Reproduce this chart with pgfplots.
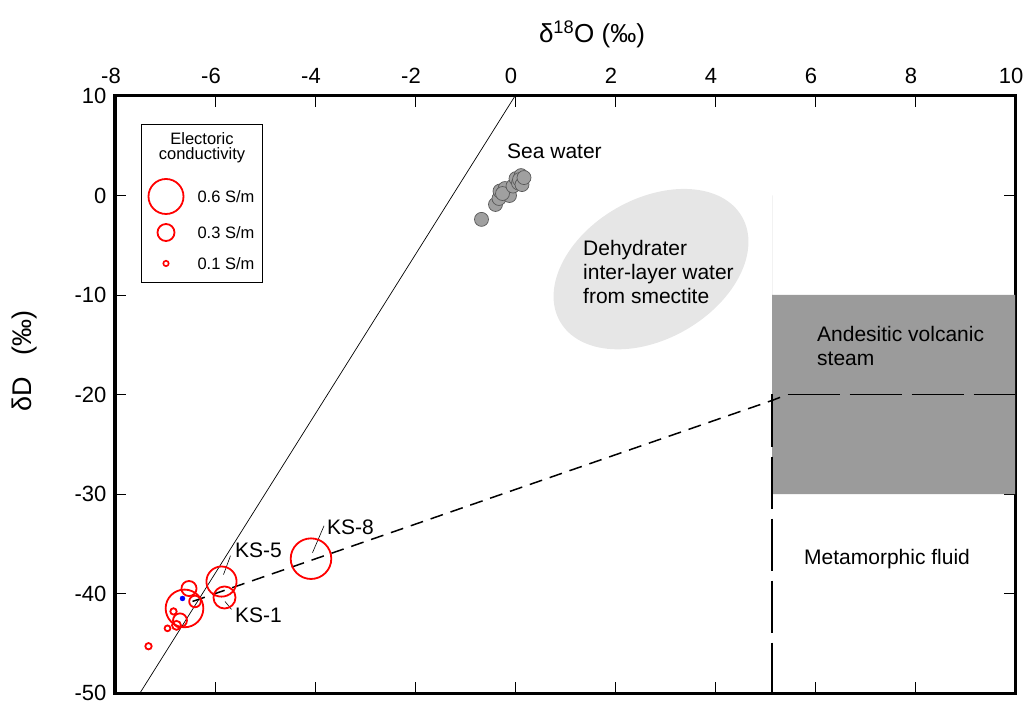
\documentclass[border=0pt]{standalone}
\usepackage{pgfplots}
\pgfplotsset{compat=1.18}
\usepackage{fontspec}
\setmainfont{Liberation Sans}
\definecolor{ellgray}{HTML}{E6E6E6}
\definecolor{boxgray}{HTML}{9B9B9B}
\definecolor{ptgray}{HTML}{A0A0A0}
\begin{document}
\begin{tikzpicture}
\begin{axis}[
  name=ax,
  scale only axis, width=900pt, height=597pt,
  xmin=-8, xmax=10, ymin=-50, ymax=10,
  xtick={-8,-6,...,10}, ytick={-50,-40,...,10},
  xticklabel pos=right,
  tick align=inside,
  major tick length=11pt,
  every tick/.style={black, line width=0.8pt},
  axis line style={line width=3pt},
  /pgf/number format/assume math mode=true,
  xticklabel style={font=\fontsize{22}{22}\selectfont, anchor=base, yshift=12pt, xshift=-4pt},
  yticklabel style={font=\fontsize{22}{22}\selectfont, anchor=east, xshift=-5pt},
  clip=true,
]
% andesitic volcanic steam box
\addplot[fill=boxgray, draw=none, forget plot] coordinates {(5.14,-10) (10,-10) (10,-30) (5.14,-30)} \closedcycle;
% ellipse
\fill[ellgray, rotate around={30:(axis cs:2.72,-7.4)}] (axis cs:2.72,-7.4) ellipse [x radius=105pt, y radius=70pt];
% GMWL
\addplot[black, line width=0.7pt, forget plot] coordinates {(-7.5,-50) (0,10)};
% mixing line
\addplot[black, line width=1.5pt, dash pattern=on 13pt off 8pt, forget plot] coordinates {(-6.45,-40.8) (5.14,-20.6) (5.45,-20)};
\addplot[black, line width=1.5pt, dash pattern=on 52pt off 10pt, forget plot] coordinates {(5.45,-20) (10,-20)};
\addplot[black, line width=1.5pt, dash pattern=on 52pt off 10pt, forget plot] coordinates {(5.14,-20) (5.14,-50)};
% sea water
\addplot[only marks, mark=*, mark size=7pt, mark options={fill=ptgray, draw=black!65, line width=0.7pt}, forget plot] coordinates {
(-0.67,-2.4) (-0.39,-0.9) (-0.32,-0.3) (-0.30,0.45) (-0.20,0.7) (-0.11,0.0) (-0.25,0.2)
(-0.04,0.95) (0.02,1.7) (0.07,1.25) (0.12,2.0) (0.09,1.6) (0.14,1.1) (0.18,1.8)
};
% samples (c = electric conductivity, S/m)
\addplot[scatter, only marks, mark=o, line width=1.8pt,
  scatter/use mapped color={draw=red},
  visualization depends on={29*\thisrow{c} \as \rad},
  scatter/@pre marker code/.append style={/tikz/mark size=\rad},
  forget plot]
  table[x=x, y=y, meta=c] {
x y c
-6.61 -41.5 0.65
-6.52 -39.5 0.26
-6.40 -40.8 0.20
-5.87 -38.8 0.52
-5.81 -40.4 0.38
-4.08 -36.5 0.70
-6.83 -41.8 0.11
-6.70 -42.7 0.24
-6.77 -43.2 0.155
-6.95 -43.5 0.10
-7.33 -45.3 0.11
};
\addplot[only marks, mark=*, blue, mark size=2.5pt, forget plot] coordinates {(-6.65,-40.5)};
% legend
\draw[black, line width=0.8pt] (axis cs:-7.48,7.14) rectangle (axis cs:-5.06,-8.74);
\node[font=\fontsize{16.5}{15}\selectfont, anchor=north, align=center, inner sep=0pt] at (axis cs:-6.26,6.33) {Electoric\\conductivity};
\addplot[only marks, mark=o, red, line width=1.8pt, mark size=17.5pt, forget plot] coordinates {(-6.98,-0.1)};
\addplot[only marks, mark=o, red, line width=1.8pt, mark size=8.5pt, forget plot] coordinates {(-6.98,-3.72)};
\addplot[only marks, mark=o, red, line width=1.6pt, mark size=2.7pt, forget plot] coordinates {(-6.98,-6.83)};
\node[font=\fontsize{16.5}{19}\selectfont, anchor=west] at (axis cs:-6.42,-0.1) {0.6 S/m};
\node[font=\fontsize{16.5}{19}\selectfont, anchor=west] at (axis cs:-6.42,-3.72) {0.3 S/m};
\node[font=\fontsize{16.5}{19}\selectfont, anchor=west] at (axis cs:-6.42,-6.83) {0.1 S/m};
% annotations
\tikzset{lab/.style={font=\fontsize{21}{24}\selectfont, anchor=base west, inner sep=0pt}}
\node[lab] at (axis cs:-0.16,3.7) {Sea water};
\node[lab] at (axis cs:1.36,-6.03) {Dehydrater};
\node[lab] at (axis cs:1.36,-8.44) {inter-layer water};
\node[lab] at (axis cs:1.36,-10.85) {from smectite};
\node[lab] at (axis cs:6.04,-14.7) {Andesitic volcanic};
\node[lab] at (axis cs:6.04,-17.1) {steam};
\node[lab] at (axis cs:5.78,-37.1) {Metamorphic fluid};
\node[lab] at (axis cs:-5.6,-36.4) {KS-5};
\node[lab] at (axis cs:-5.6,-42.9) {KS-1};
\node[lab] at (axis cs:-3.76,-34.1) {KS-8};
\draw[black, line width=0.6pt] (axis cs:-5.69,-36.2) -- (axis cs:-5.83,-38.1);
\draw[black, line width=0.6pt] (axis cs:-5.8,-40.8) -- (axis cs:-5.67,-41.6);
\draw[black, line width=0.6pt] (axis cs:-3.82,-33.2) -- (axis cs:-4.05,-35.9);
\end{axis}
\node[font=\fontsize{26}{28}\selectfont, anchor=base] at ([xshift=477pt,yshift=53pt]ax.north west) {δ\textsuperscript{18}O (‰)};
\node[font=\fontsize{27}{30}\selectfont, rotate=90, anchor=center] at ([xshift=-90pt,yshift=332pt]ax.south west) {δD\hspace{0.8em}(‰)};
\pgfresetboundingbox
\useasboundingbox ([xshift=-115pt,yshift=-11pt]ax.south west) rectangle ([xshift=12pt,yshift=96pt]ax.north east);
\end{tikzpicture}
\end{document}
